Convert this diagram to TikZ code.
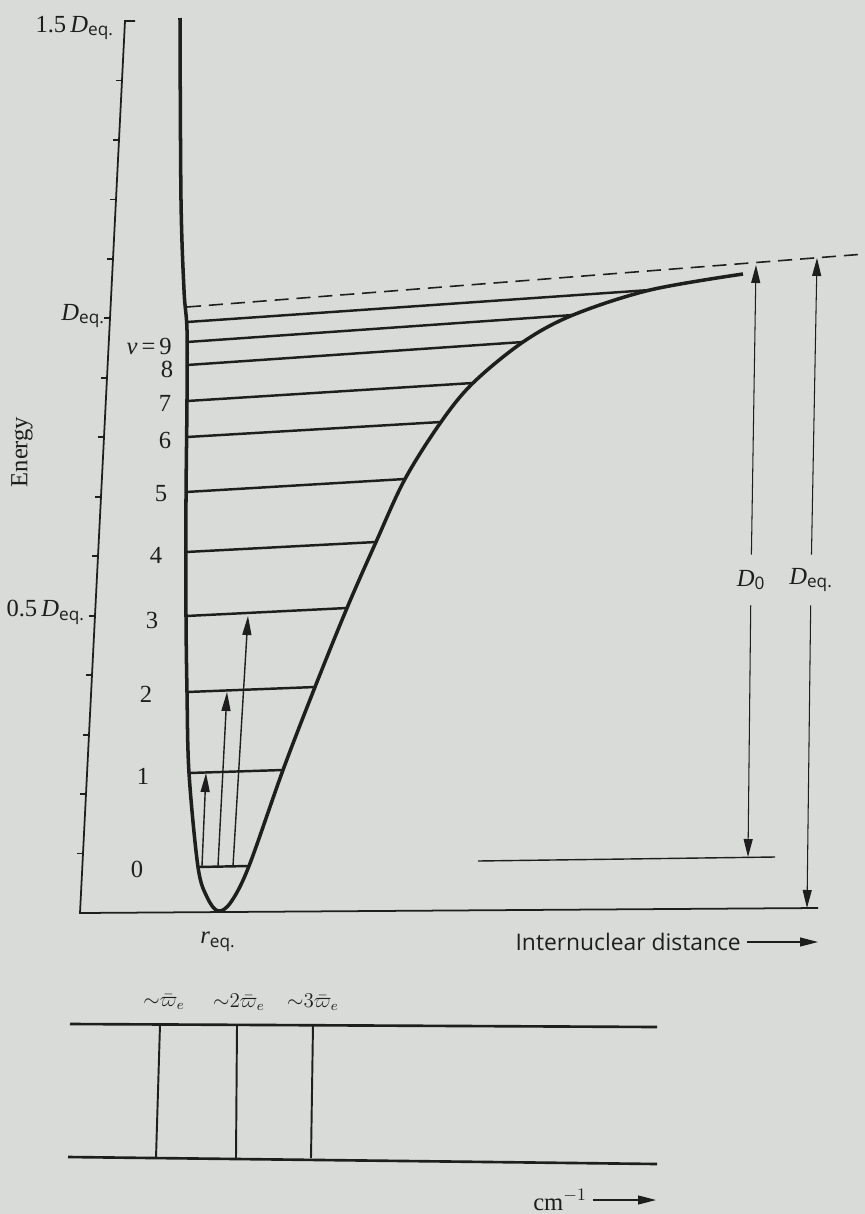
\documentclass[tikz,border=0pt]{standalone}
\usepackage{fontspec}
\setmainfont{Liberation Serif}
\setsansfont{Open Sans}
\usepackage{tikz}
\usetikzlibrary{arrows.meta}

\definecolor{paper}{RGB}{216,219,215}
\definecolor{ink}{RGB}{30,30,30}
\newcommand{\Deq}{\textit{D}\textsubscript{\sffamily eq.}}
\newcommand{\Dzero}{\textit{D}\textsubscript{\sffamily 0}}

\begin{document}
\begin{tikzpicture}[
    x=0.02cm, y=-0.02cm,
    font=\fontsize{14}{17}\selectfont,
    every node/.style={text=ink},
    curve/.style={draw=ink, line width=2pt, line join=round},
    level/.style={draw=ink, line width=1.4pt},
    axis/.style={draw=ink, line width=1pt},
    arr/.style={draw=ink, -{Triangle[length=3.8mm, width=1.8mm]}, line width=0.8pt},
    dimarr/.style={draw=ink, -{Triangle[length=3.6mm, width=1.8mm]}, line width=0.6pt},
    dimlabel/.style={minimum height=10mm, inner sep=1pt},
    freqlabel/.style={inner sep=1pt, font=\fontsize{12}{14}\selectfont},
    specline/.style={draw=ink, line width=1.5pt}
  ]
  \fill[paper] (0,0) rectangle (865,1214);
  \useasboundingbox (0,0) rectangle (865,1214);

  % energy axis
  \coordinate (stub) at (135,21);
  \coordinate (etop) at (125,21);
  \coordinate (origin) at (80,913);
  \coordinate (xend) at (818,908);
  \draw[axis] (stub) -- (etop) -- (origin) -- (xend);
  \foreach \k in {1,...,14}
    \draw[axis] ({125-3*\k},{21+59.47*\k}) -- ++(-6,0);

  \node[anchor=east] (top15) at (120,28) {1.5\,\Deq};
  \node[anchor=east] (deqtick) at (111,316) {\Deq};
  \node[anchor=east] (half) at (91,612) {0.5\,\Deq};
  \node[rotate=90] (energy) at (22,452) {Energy};

  % potential curve
  \draw[curve] plot[smooth, tension=0.55] coordinates {
    (180,18) (181,200) (184,290) (187,330) (187,400) (186,500)
    (186,616) (187,692) (189,773) (198,867) (207,897) (218,911)
    (231,902) (249,866) (283,770) (315,687) (347,608) (376,542)
    (405,479) (441,422) (473,383) (523,342) (573,315) (650,290) (743,274)};

  % vibrational levels
  \foreach \v/\xl/\yl/\xr/\yr in {0/198/867/249/866, 1/189/773/283/770,
      2/187/692/315/687, 3/186/616/347/608, 4/186/552/376/542,
      5/186/492/405/479, 6/187/437/441/422, 7/187/401/473/383,
      8/187/365/523/342, 9/187/342/573/315, 10/187/322/650/290} {
    \coordinate (L\v) at (\xl,\yl);
    \coordinate (R\v) at (\xr,\yr);
    \draw[level] (L\v) -- (R\v);
  }
  \foreach \v/\lx/\ly in {0/137/869, 1/143/776, 2/146/694, 3/152/620,
      4/156/555, 5/161/494, 6/165/440, 7/165/403, 8/167/369}
    \node (lab\v) at (\lx,\ly) {\v};
  \node[anchor=east] (lab9) at (178,346) {\textit{v}\,=\,9};

  % dissociation limit
  \coordinate (limL) at (187,307);
  \coordinate (limR) at (865,254);
  \draw[draw=ink, line width=0.9pt, dash pattern=on 8pt off 4.5pt] (limL) -- (limR);

  % transitions from v=0
  \coordinate (t1s) at (202,866); \coordinate (t1e) at (206,773);
  \coordinate (t2s) at (218,866); \coordinate (t2e) at (227,692);
  \coordinate (t3s) at (233,866); \coordinate (t3e) at (248,616);
  \draw[arr] (t1s) -- (t1e);
  \draw[arr] (t2s) -- (t2e);
  \draw[arr] (t3s) -- (t3e);

  % D0 and Deq
  \coordinate (zpL) at (478,861);
  \coordinate (zpR) at (775,857);
  \draw[draw=ink, line width=0.8pt] (zpL) -- (zpR);
  \node[dimlabel] (d0lab) at (751,580) {\Dzero};
  \node[dimlabel] (deqlab) at (811,580) {\Deq};
  \coordinate (d0top) at (756,265);
  \coordinate (d0bot) at (748,857);
  \coordinate (deqtop) at (817,258);
  \coordinate (deqbot) at (807,908);
  \draw[dimarr] (d0lab) -- (d0top);
  \draw[dimarr] (d0lab) -- (d0bot);
  \draw[dimarr] (deqlab) -- (deqtop);
  \draw[dimarr] (deqlab) -- (deqbot);

  % axis labels
  \node (req) at (218,942) {\textit{r}\textsubscript{\sffamily eq.}};
  \node[anchor=east, font=\sffamily\fontsize{13}{15}\selectfont] (xlab) at (747,942) {Internuclear distance};
  \coordinate (xtip) at (818,942);
  \draw[dimarr] (xlab) -- (xtip);

  % spectrum
  \coordinate (s1a) at (70,1024);
  \coordinate (s1b) at (657,1027);
  \coordinate (s2a) at (68,1157);
  \coordinate (s2b) at (657,1164);
  \draw[specline] (s1a) -- (s1b);
  \draw[specline] (s2a) -- (s2b);
  \foreach \xt/\xb in {160/156, 237/236, 313/311}
    \draw[draw=ink, line width=1.1pt] (\xt,1025) -- (\xb,1158);
  \node[freqlabel] (w1) at (164,1002) {${\sim}\bar{\varpi}_e$};
  \node[freqlabel] (w2) at (239,1002) {${\sim}2\bar{\varpi}_e$};
  \node[freqlabel] (w3) at (313,1002) {${\sim}3\bar{\varpi}_e$};
  \node (unit) at (560,1200) {cm$^{-1}$};
  \coordinate (utip) at (656,1200);
  \draw[dimarr] (unit) -- (utip);
\end{tikzpicture}
\end{document}
